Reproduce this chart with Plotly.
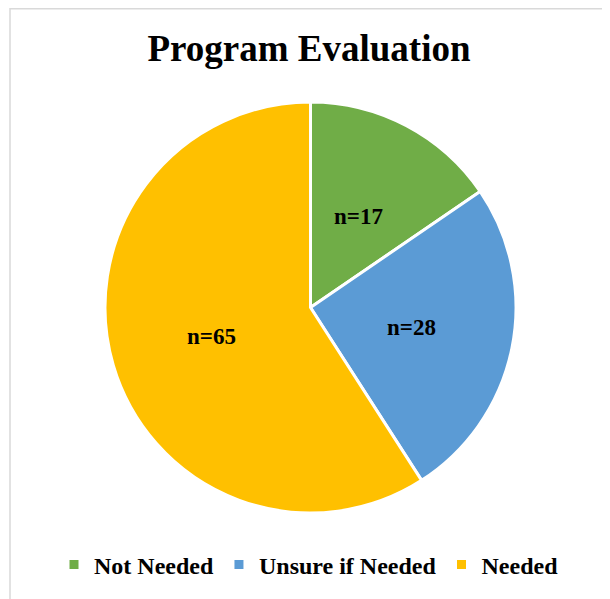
import math
import plotly.graph_objects as go

# Chart data
categories = ["Not Needed", "Unsure if Needed", "Needed"]
counts = [17, 28, 65]
slice_labels = ["n=17", "n=28", "n=65"]
colors = ["#70AD47", "#5B9BD5", "#FFC000"]

# The page has an 8px body margin, so the figure is a bit smaller than the window
W, H = 602, 591
font_family = "Liberation Serif"

# Pie geometry in figure pixels
cx, cy, r = 302.5, 299.5, 205.5

fig = go.Figure()

fig.add_trace(go.Pie(
    labels=categories,
    values=counts,
    textinfo="none",
    marker=dict(colors=colors, line=dict(color="white", width=3)),
    sort=False,
    direction="clockwise",
    rotation=0,
    domain=dict(x=[(cx - r)/W, (cx + r)/W], y=[1 - (cy + r)/H, 1 - (cy - r)/H]),
    hoverinfo="label+value",
))

# Slice labels at half radius, on each slice's mid angle
total = sum(counts)
cum = 0
for lab, val in zip(slice_labels, counts):
    mid = (cum + val/2) / total * 2*math.pi
    cum += val
    px = cx + 0.5*r*math.sin(mid)
    py = cy - 0.5*r*math.cos(mid)
    fig.add_annotation(
        x=px/W, y=1 - py/H, xref="paper", yref="paper",
        xanchor="center", yanchor="middle",
        text=f"<b>{lab}</b>", showarrow=False,
        font=dict(family=font_family, size=23, color="black"),
    )

# Light chart-area border
fig.add_shape(
    type="rect", xref="paper", yref="paper",
    x0=2/W, x1=600/W, y0=-0.02, y1=1 - 0.8/H,
    line=dict(color="#D9D9D9", width=1.5),
    fillcolor="rgba(0,0,0,0)",
)

fig.update_layout(
    width=W,
    height=H,
    margin=dict(l=0, r=0, t=0, b=0),
    paper_bgcolor="white",
    plot_bgcolor="white",
    font=dict(family=font_family, color="black"),
    title=dict(
        text="<b>Program Evaluation</b>",
        x=0.5, xanchor="center",
        y=1 - 40/H, yanchor="middle",
        font=dict(family=font_family, size=37, color="black"),
    ),
    legend=dict(
        orientation="h",
        x=0.5, xanchor="center",
        y=1 - 557/H, yanchor="middle",
        font=dict(family=font_family, size=24, color="black", weight="bold"),
        traceorder="normal",
    ),
    showlegend=True,
)

fig.write_html("out.html")
